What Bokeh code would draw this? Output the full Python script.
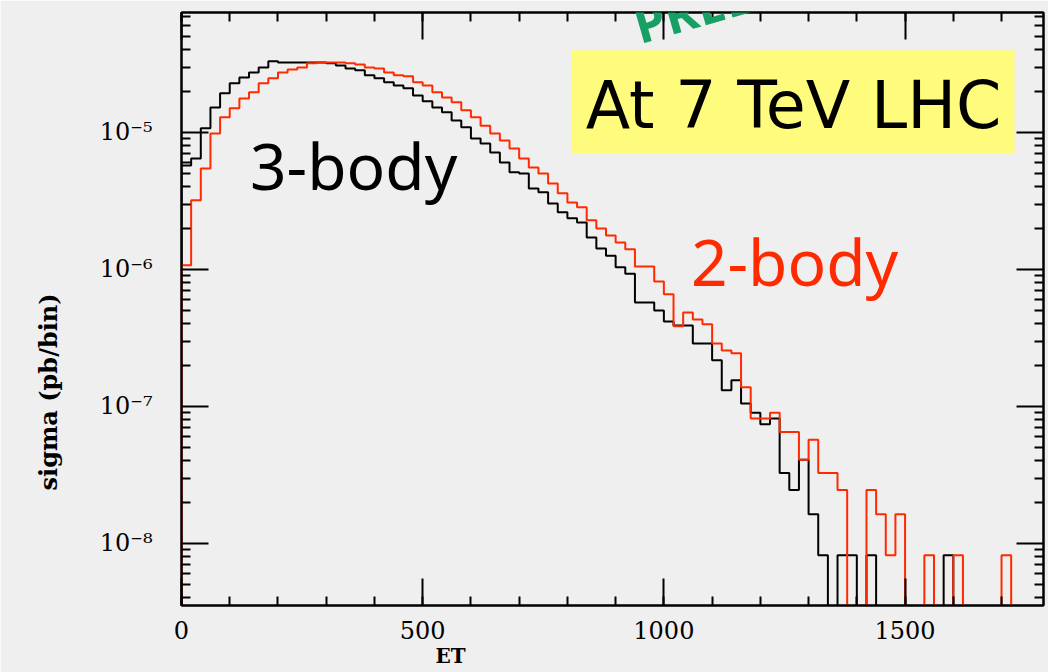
import math
from bokeh.plotting import figure
from bokeh.models import (LinearAxis, LogAxis, FixedTicker, SingleIntervalTicker,
                          CustomJSTickFormatter, CustomLabelingPolicy, Label,
                          BoxAnnotation, Title)
from bokeh.embed import file_html
from bokeh.resources import INLINE

# ---------------- data (pb/bin, 20-unit bins from 0 to 1800) ----------------
bin_edges = [0, 20, 40, 60, 80, 100, 120, 140, 160, 180, 200, 220, 240, 260, 280,
             300, 320, 340, 360, 380, 400, 420, 440, 460, 480, 500, 520, 540, 560,
             580, 600, 620, 640, 660, 680, 700, 720, 740, 760, 780, 800, 820, 840,
             860, 880, 900, 920, 940, 960, 980, 1000, 1020, 1040, 1060, 1080, 1100,
             1120, 1140, 1160, 1180, 1200, 1220, 1240, 1260, 1280, 1300, 1320, 1340,
             1360, 1380, 1400, 1420, 1440, 1460, 1480, 1500, 1520, 1540, 1560, 1580,
             1600, 1620, 1640, 1660, 1680, 1700, 1720, 1740, 1760, 1780, 1800]

three_body = [5.74e-6, 6.46e-6, 1.07e-5, 1.52e-5, 1.93e-5, 2.28e-5, 2.52e-5, 2.74e-5,
              2.98e-5, 3.30e-5, 3.24e-5, 3.24e-5, 3.24e-5, 3.24e-5, 3.24e-5, 3.19e-5,
              3.08e-5, 2.93e-5, 2.84e-5, 2.61e-5, 2.48e-5, 2.32e-5, 2.20e-5, 2.10e-5,
              1.86e-5, 1.69e-5, 1.52e-5, 1.40e-5, 1.22e-5, 1.09e-5, 9.04e-6, 8.31e-6,
              7.14e-6, 6.04e-6, 5.11e-6, 5.02e-6, 3.90e-6, 3.65e-6, 3.03e-6, 2.61e-6,
              2.36e-6, 2.20e-6, 1.71e-6, 1.42e-6, 1.26e-6, 1.035e-6, 9.3e-7, 5.74e-7,
              5.74e-7, 5.02e-7, 4.17e-7, 3.90e-7, 3.90e-7, 2.88e-7, 2.88e-7, 2.17e-7,
              1.31e-7, 1.55e-7, 1.05e-7, 9.0e-8, 7.39e-8, 8.17e-8, 3.26e-8, 2.45e-8,
              4.08e-8, 1.63e-8, 8.2e-9, 0, 8.2e-9, 8.2e-9, 0, 8.2e-9, 0, 0, 0, 0, 0,
              0, 0, 8.2e-9, 0, 0, 0, 0, 0, 0, 0, 0, 0, 0]

two_body = [1.07e-6, 3.19e-6, 5.46e-6, 9.8e-6, 1.29e-5, 1.50e-5, 1.77e-5, 1.96e-5,
            2.28e-5, 2.48e-5, 2.74e-5, 2.88e-5, 2.98e-5, 3.19e-5, 3.24e-5, 3.24e-5,
            3.24e-5, 3.19e-5, 3.13e-5, 2.98e-5, 2.93e-5, 2.74e-5, 2.61e-5, 2.57e-5,
            2.32e-5, 2.20e-5, 1.96e-5, 1.80e-5, 1.66e-5, 1.45e-5, 1.29e-5, 1.12e-5,
            9.8e-6, 8.74e-6, 7.64e-6, 6.46e-6, 5.55e-6, 5.02e-6, 4.24e-6, 3.59e-6,
            3.08e-6, 2.84e-6, 2.28e-6, 1.99e-6, 1.77e-6, 1.57e-6, 1.40e-6, 1.05e-6,
            1.05e-6, 8.17e-7, 6.57e-7, 3.84e-7, 4.85e-7, 4.31e-7, 3.97e-7, 2.88e-7,
            2.56e-7, 2.44e-7, 1.38e-7, 8.17e-8, 8.17e-8, 9.0e-8, 6.5e-8, 6.5e-8,
            4.08e-8, 5.7e-8, 3.26e-8, 3.26e-8, 2.45e-8, 0, 0, 2.45e-8, 1.63e-8,
            8.2e-9, 1.63e-8, 0, 0, 8.2e-9, 0, 0, 8.2e-9, 0, 0, 0, 0, 8.2e-9, 0, 0,
            0, 0]

y_major_ticks = [1e-9, 1e-8, 1e-7, 1e-6, 1e-5, 1e-4]

# ---------------- styling ----------------
BG = "#efefef"
RED = "#ff2a00"
X_HI = 1787
Y_LO, Y_HI = 3.52e-9, 7.5e-5
FLOOR = 1e-10


def step_points(vals):
    xs = [bin_edges[0]] + bin_edges
    ys = [FLOOR] + [v if v > 0 else FLOOR for v in vals] + [vals[-1] if vals[-1] > 0 else FLOOR]
    return xs, ys


p = figure(width=1048, height=672, x_range=(0, X_HI), y_range=(Y_LO, Y_HI),
           y_axis_type="log", output_backend="svg", toolbar_location=None,
           min_border_left=181, min_border_right=0, min_border_top=12,
           min_border_bottom=67)
p.background_fill_color = BG
p.border_fill_color = BG
p.outline_line_color = "black"
p.outline_line_width = 2
p.xgrid.visible = False
p.ygrid.visible = False

# yellow box behind text
p.add_layout(BoxAnnotation(left=809, right=1727, bottom=7.03e-6, top=3.97e-5,
                           fill_color="#fffb7d", fill_alpha=1.0, line_alpha=0,
                           level="underlay"))

xb, yb = step_points(three_body)
p.step(xb, yb, mode="after", line_color="black", line_width=2)
xr, yr = step_points(two_body)
p.step(xr, yr, mode="after", line_color=RED, line_width=2)

minor = [m * t for t in y_major_ticks[:-1] for m in range(2, 10)]
yticker = FixedTicker(ticks=y_major_ticks, minor_ticks=minor)
xticker = SingleIntervalTicker(interval=500, num_minor_ticks=5)

fmt = CustomJSTickFormatter(code="""
const e = Math.round(Math.log10(tick));
const sup = {"-":"\u207b","0":"\u2070","1":"\u00b9","2":"\u00b2","3":"\u00b3",
             "4":"\u2074","5":"\u2075","6":"\u2076","7":"\u2077","8":"\u2078","9":"\u2079"};
return "10" + String(e).split("").map(c => sup[c]).join("");
""")

hide_all = CustomLabelingPolicy(code="""
for (const i of [...indices]) { indices.unset(i) }
return indices
""")


def style_axis(ax):
    ax.axis_line_color = "black"
    ax.axis_line_width = 2
    ax.major_tick_line_color = "black"
    ax.major_tick_line_width = 2
    ax.minor_tick_line_color = "black"
    ax.minor_tick_line_width = 2
    ax.major_tick_in = 27
    ax.major_tick_out = 0
    ax.minor_tick_in = 9
    ax.minor_tick_out = 0
    ax.major_label_text_font = "DejaVu Serif"
    ax.major_label_text_font_size = "24px"
    ax.major_label_text_color = "black"


yax = p.yaxis[0]
yax.ticker = yticker
yax.formatter = fmt
style_axis(yax)
yax.major_label_standoff = 29

xax = p.xaxis[0]
xax.ticker = xticker
style_axis(xax)
xax.major_label_standoff = 15

for ax, side in ((LogAxis(ticker=yticker), "right"), (LinearAxis(ticker=xticker), "above")):
    style_axis(ax)
    ax.major_label_text_font_size = "1px"
    ax.major_label_standoff = 0
    ax.axis_label_standoff = 0
    ax.major_label_policy = hide_all
    p.add_layout(ax, side)

# axis titles as side titles (placed outside the axes)
p.add_layout(Title(text="sigma (pb/bin)", align="left", offset=115, standoff=63,
                   vertical_align="top", text_font="DejaVu Serif",
                   text_font_style="bold", text_font_size="24px",
                   text_color="black"), "left")
p.add_layout(Title(text="ET", align="left", offset=254, standoff=0,
                   text_font="DejaVu Serif", text_font_style="bold",
                   text_font_size="20px", text_color="black"), "below")

# annotations
p.add_layout(Label(x=142, y=5.75e-6, text="3-body", text_font="Noto Sans",
                   text_font_size="64px", text_color="black",
                   text_baseline="alphabetic"))
p.add_layout(Label(x=1056, y=1.143e-6, text="2-body", text_font="Noto Sans",
                   text_font_size="64px", text_color=RED,
                   text_baseline="alphabetic"))
p.add_layout(Label(x=838, y=1.575e-5, text="At 7 TeV LHC", text_font="DejaVu Sans",
                   text_font_size="65px", text_color="black",
                   text_baseline="alphabetic"))
p.add_layout(Label(x=940, y=5.99e-5, text="PRELIMINARY", text_font="Noto Sans",
                   text_font_style="bold", text_font_size="50px",
                   text_color="#17a064", angle=0.28, text_baseline="alphabetic"))

html = file_html(p, INLINE)
html = html.replace("<body>", '<body style="background-color:#efefef;">', 1)
open("out.html", "w").write(html)
